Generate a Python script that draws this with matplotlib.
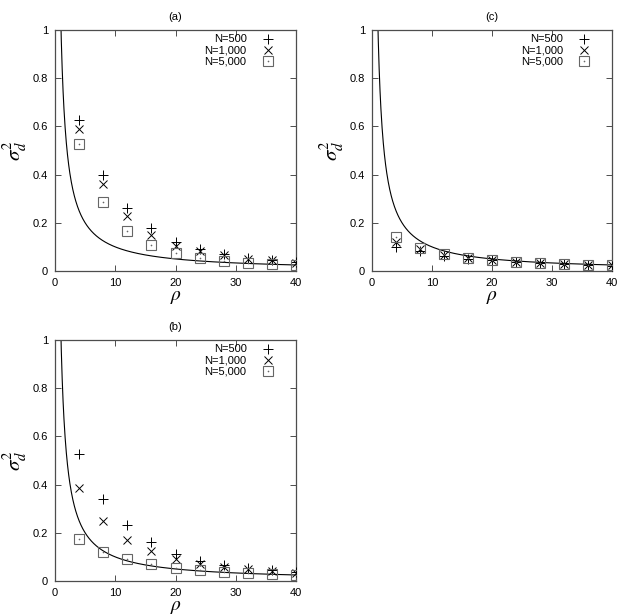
import numpy as np
import matplotlib
matplotlib.use("Agg")
import matplotlib.pyplot as plt

plt.rcParams['font.family'] = ['Liberation Sans', 'DejaVu Sans']
plt.rcParams['mathtext.fontset'] = 'stix'

rho = [4, 8, 12, 16, 20, 24, 28, 32, 36, 40]
series_labels = ["N=500", "N=1,000", "N=5,000"]

a_n500 = [0.626, 0.40, 0.263, 0.18, 0.12, 0.093, 0.069, 0.055, 0.047, 0.037]
a_n1000 = [0.59, 0.36, 0.227, 0.148, 0.104, 0.082, 0.065, 0.051, 0.044, 0.035]
a_n5000 = [0.525, 0.287, 0.168, 0.107, 0.075, 0.054, 0.042, 0.035, 0.029, 0.025]

b_n500 = [0.526, 0.342, 0.232, 0.163, 0.114, 0.083, 0.065, 0.054, 0.044, 0.037]
b_n1000 = [0.385, 0.25, 0.17, 0.124, 0.093, 0.072, 0.058, 0.049, 0.042, 0.035]
b_n5000 = [0.174, 0.122, 0.092, 0.07, 0.056, 0.045, 0.037, 0.032, 0.028, 0.024]

c_n500 = [0.10, 0.083, 0.062, 0.051, 0.044, 0.037, 0.032, 0.029, 0.025, 0.022]
c_n1000 = [0.12, 0.091, 0.066, 0.054, 0.046, 0.039, 0.033, 0.029, 0.026, 0.024]
c_n5000 = [0.141, 0.097, 0.069, 0.055, 0.046, 0.039, 0.033, 0.030, 0.026, 0.024]

panels = {
    "(a)": (a_n500, a_n1000, a_n5000),
    "(b)": (b_n500, b_n1000, b_n5000),
    "(c)": (c_n500, c_n1000, c_n5000),
}

W, H = 621, 615
fig = plt.figure(figsize=(W / 100, H / 100), dpi=100)

# axes rectangles in pixels: left, top, right, bottom
rects = {
    "(a)": (55, 30, 296, 271),
    "(c)": (372, 30, 612, 271),
    "(b)": (55, 340, 296, 581),
}

curve_x = np.linspace(0.9, 40, 800)
curve_y = 1.0 / curve_x

sq_col = '0.4'
styles = [
    dict(marker='+', color='black', ms=7.5, mew=0.7, ls='none'),
    dict(marker='x', color='black', ms=6, mew=0.7, ls='none'),
    dict(marker='s', mec=sq_col, mfc='none', ms=6.5, mew=0.8, ls='none'),
]

for name, data in panels.items():
    l, t, r, b = rects[name]
    ax = fig.add_axes([l / W, 1 - b / H, (r - l) / W, (b - t) / H])
    ax.plot(curve_x, curve_y, color='black', lw=0.8, zorder=2)
    for vals, st in zip(data, styles):
        ax.plot(rho, vals, zorder=3, **st)
    ax.plot(rho, data[2], ls='none', marker='o', ms=1.2, color=sq_col, mew=0, zorder=3)
    ax.set_xlim(0, 40)
    ax.set_ylim(0, 1)
    ax.set_xticks([0, 10, 20, 30, 40])
    ax.set_yticks([0, 0.2, 0.4, 0.6, 0.8, 1])
    ax.set_yticklabels(["0", "0.2", "0.4", "0.6", "0.8", "1"])
    ax.tick_params(direction='in', top=True, right=True, length=4, width=0.7,
                   labelsize=8, pad=5, color='0.3')
    for sp in ax.spines.values():
        sp.set_linewidth(0.9)
        sp.set_color('0.3')
    ax.set_title(name, fontsize=8, pad=7.5)
    ax.set_xlabel(r'$\rho$', fontsize=14, labelpad=1)
    ax.set_ylabel(r'$\sigma_d^2$', fontsize=15, labelpad=3)
    # legend (gnuplot style: right-aligned text, marker to the right)
    ys = [0.961, 0.917, 0.870]
    for lab, yy, st in zip(series_labels, ys, styles):
        ax.text(0.795, yy, lab, transform=ax.transAxes, ha='right', va='center', fontsize=8)
        ax.plot([0.885], [yy], transform=ax.transAxes, clip_on=False, **st)
    ax.plot([0.885], [ys[2]], transform=ax.transAxes, ls='none', marker='o', ms=1.2,
            color=sq_col, mew=0)

fig.savefig("out.png", dpi=100)
